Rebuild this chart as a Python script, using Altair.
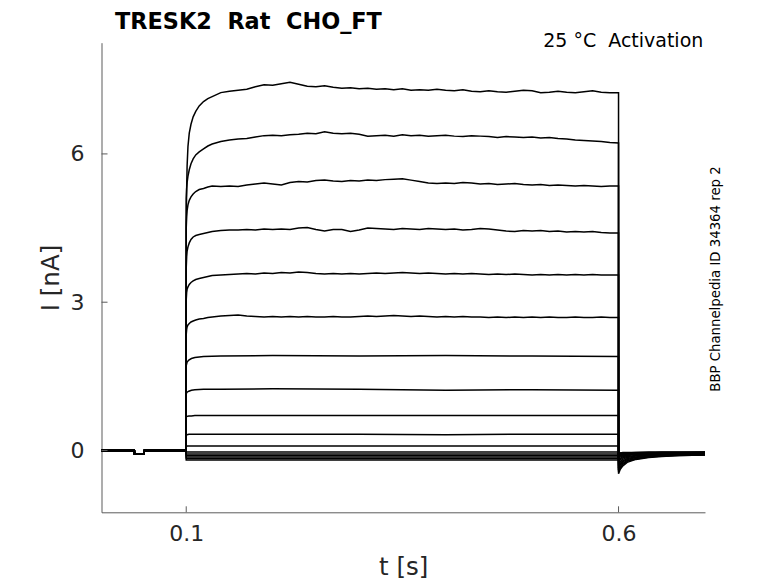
import altair as alt
import pandas as pd

# ---------------- data ----------------
# holding phase, shared by every sweep
T_PRE = [0.002, 0.040, 0.0402, 0.0513, 0.0515, 0.1]
I_PRE = [0.0, 0.0, -0.07, -0.07, 0.0, 0.0]

# step phase time grid
T_ONSET = [0.1, 0.1005, 0.101, 0.102, 0.1035, 0.1055, 0.108, 0.111, 0.115, 0.12, 0.125]
T_PLATEAU = [0.13, 0.14, 0.15, 0.16, 0.17, 0.18, 0.19, 0.20, 0.21, 0.22,
             0.23, 0.24, 0.25, 0.26, 0.27, 0.28, 0.29, 0.30, 0.31, 0.32,
             0.33, 0.34, 0.35, 0.36, 0.37, 0.38, 0.39, 0.40, 0.41, 0.42,
             0.43, 0.44, 0.45, 0.46, 0.47, 0.48, 0.49, 0.50, 0.51, 0.52,
             0.53, 0.54, 0.55, 0.56, 0.57, 0.58, 0.59, 0.60]

S1_ON = [4.6, 5.3, 5.75, 6.15, 6.42, 6.6, 6.75, 6.86, 6.97, 7.06, 7.12]
S1_PL = [7.16, 7.24, 7.27, 7.29, 7.31, 7.36, 7.40, 7.39, 7.42, 7.45,
         7.41, 7.37, 7.36, 7.38, 7.35, 7.33, 7.34, 7.32, 7.33, 7.31,
         7.32, 7.30, 7.32, 7.29, 7.30, 7.29, 7.31, 7.29, 7.28, 7.30,
         7.27, 7.26, 7.28, 7.26, 7.25, 7.27, 7.29, 7.28, 7.24, 7.25,
         7.27, 7.25, 7.24, 7.26, 7.28, 7.25, 7.24, 7.24]

S2_ON = [5.1, 5.3, 5.42, 5.55, 5.68, 5.8, 5.9, 5.98, 6.04, 6.1, 6.16]
S2_PL = [6.20, 6.25, 6.28, 6.30, 6.31, 6.34, 6.37, 6.38, 6.37, 6.39,
         6.40, 6.42, 6.41, 6.45, 6.42, 6.41, 6.42, 6.40, 6.36, 6.37,
         6.38, 6.36, 6.39, 6.37, 6.38, 6.36, 6.37, 6.38, 6.36, 6.35,
         6.37, 6.36, 6.35, 6.33, 6.35, 6.34, 6.33, 6.34, 6.32, 6.33,
         6.31, 6.30, 6.28, 6.27, 6.26, 6.25, 6.23, 6.22]

S3_ON = [4.5, 4.73, 4.85, 4.97, 5.06, 5.13, 5.19, 5.24, 5.28, 5.30, 5.33]
S3_PL = [5.35, 5.34, 5.35, 5.34, 5.37, 5.39, 5.41, 5.39, 5.37, 5.42,
         5.44, 5.43, 5.46, 5.47, 5.45, 5.44, 5.46, 5.45, 5.47, 5.46,
         5.48, 5.49, 5.50, 5.47, 5.44, 5.41, 5.40, 5.41, 5.40, 5.42,
         5.41, 5.39, 5.40, 5.38, 5.39, 5.40, 5.38, 5.37, 5.38, 5.36,
         5.37, 5.36, 5.35, 5.36, 5.35, 5.34, 5.35, 5.35]

S4_ON = [3.7, 3.92, 4.03, 4.12, 4.20, 4.27, 4.32, 4.35, 4.37, 4.39, 4.41]
S4_PL = [4.43, 4.45, 4.46, 4.46, 4.47, 4.46, 4.48, 4.47, 4.48, 4.47,
         4.50, 4.51, 4.47, 4.44, 4.47, 4.47, 4.43, 4.46, 4.50, 4.49,
         4.48, 4.47, 4.49, 4.48, 4.47, 4.49, 4.48, 4.47, 4.48, 4.46,
         4.47, 4.49, 4.48, 4.46, 4.44, 4.43, 4.45, 4.44, 4.45, 4.43,
         4.44, 4.42, 4.43, 4.42, 4.43, 4.41, 4.40, 4.40]

S5_ON = [3.05, 3.20, 3.26, 3.31, 3.36, 3.40, 3.43, 3.46, 3.48, 3.50, 3.52]
S5_PL = [3.54, 3.55, 3.56, 3.57, 3.58, 3.57, 3.59, 3.58, 3.60, 3.59,
         3.61, 3.60, 3.58, 3.57, 3.58, 3.57, 3.58, 3.57, 3.58, 3.59,
         3.58, 3.59, 3.60, 3.59, 3.58, 3.59, 3.58, 3.57, 3.58, 3.57,
         3.58, 3.57, 3.56, 3.57, 3.56, 3.57, 3.56, 3.55, 3.56, 3.55,
         3.56, 3.55, 3.56, 3.55, 3.56, 3.55, 3.55, 3.55]

S6_ON = [2.35, 2.45, 2.50, 2.54, 2.57, 2.60, 2.62, 2.64, 2.66, 2.67, 2.69]
S6_PL = [2.70, 2.72, 2.73, 2.74, 2.72, 2.71, 2.70, 2.71, 2.70, 2.71,
         2.70, 2.71, 2.70, 2.70, 2.71, 2.70, 2.70, 2.71, 2.72, 2.71,
         2.72, 2.73, 2.72, 2.71, 2.72, 2.71, 2.70, 2.71, 2.70, 2.71,
         2.70, 2.70, 2.69, 2.70, 2.69, 2.70, 2.69, 2.70, 2.69, 2.70,
         2.69, 2.69, 2.70, 2.69, 2.69, 2.70, 2.69, 2.69]

# smaller sweeps on a coarser grid
T_COARSE = [0.1, 0.101, 0.103, 0.106, 0.11, 0.12, 0.14, 0.2, 0.3, 0.4, 0.5, 0.6]
S7 = [1.72, 1.79, 1.83, 1.86, 1.88, 1.90, 1.91, 1.92, 1.91, 1.92, 1.91, 1.90]
S8 = [1.15, 1.18, 1.20, 1.22, 1.23, 1.24, 1.24, 1.25, 1.24, 1.22, 1.23, 1.22]
S9 = [0.68, 0.69, 0.70, 0.70, 0.71, 0.71, 0.71, 0.71, 0.71, 0.71, 0.71, 0.71]
S10 = [0.32, 0.32, 0.33, 0.33, 0.33, 0.33, 0.33, 0.33, 0.33, 0.32, 0.33, 0.33]
S11 = [0.08, 0.09, 0.09, 0.09, 0.09, 0.09, 0.09, 0.09, 0.09, 0.09, 0.09, 0.09]

# inward (negative) sweeps, flat during the step
T_FLAT = [0.1, 0.6]
N1 = [-0.03, -0.03]
N2 = [-0.07, -0.07]
N3 = [-0.10, -0.10]
N4 = [-0.13, -0.13]
N5 = [-0.16, -0.16]
N6 = [-0.19, -0.19]

# tail currents after the step
T_TAIL = [0.6, 0.602, 0.605, 0.61, 0.62, 0.635, 0.65, 0.67, 0.7]
TL1 = [-0.47, -0.38, -0.31, -0.24, -0.18, -0.14, -0.12, -0.10, -0.09]
TL2 = [-0.43, -0.35, -0.28, -0.22, -0.17, -0.13, -0.11, -0.10, -0.09]
TL3 = [-0.39, -0.32, -0.26, -0.20, -0.16, -0.12, -0.11, -0.09, -0.08]
TL4 = [-0.35, -0.29, -0.23, -0.18, -0.14, -0.11, -0.10, -0.09, -0.08]
TL5 = [-0.31, -0.26, -0.21, -0.16, -0.13, -0.10, -0.09, -0.08, -0.07]
TL6 = [-0.27, -0.23, -0.18, -0.14, -0.11, -0.09, -0.08, -0.07, -0.07]
TL7 = [-0.23, -0.19, -0.15, -0.12, -0.10, -0.08, -0.07, -0.07, -0.06]
TL8 = [-0.19, -0.16, -0.13, -0.10, -0.08, -0.07, -0.06, -0.06, -0.06]
TL9 = [-0.15, -0.13, -0.11, -0.09, -0.07, -0.06, -0.06, -0.05, -0.05]
TL10 = [-0.12, -0.10, -0.09, -0.07, -0.06, -0.05, -0.05, -0.05, -0.04]
TL11 = [-0.09, -0.08, -0.07, -0.06, -0.05, -0.05, -0.04, -0.04, -0.04]
TN1 = [-0.05, -0.05, -0.04, -0.04, -0.04, -0.03, -0.03, -0.03, -0.03]
TN2 = [-0.06, -0.05, -0.05, -0.05, -0.04, -0.04, -0.04, -0.04, -0.03]
TN3 = [-0.07, -0.06, -0.06, -0.05, -0.05, -0.05, -0.04, -0.04, -0.04]
TN4 = [-0.08, -0.07, -0.07, -0.06, -0.06, -0.05, -0.05, -0.05, -0.05]
TN5 = [-0.10, -0.09, -0.08, -0.07, -0.07, -0.06, -0.06, -0.06, -0.05]
TN6 = [-0.11, -0.10, -0.09, -0.08, -0.07, -0.07, -0.06, -0.06, -0.06]

X_TICKS = [0.1, 0.6]
Y_TICKS = [0, 3, 6]

TITLE = "TRESK2 \u00a0Rat \u00a0CHO_FT"
COND = "25 °C \u00a0Activation"
SIDE = "BBP Channelpedia ID 34364 rep 2"

# ---------------- assemble sweeps ----------------
T_STEP = T_ONSET + T_PLATEAU
sweeps = [
    ("s1", T_STEP, S1_ON + S1_PL, TL1),
    ("s2", T_STEP, S2_ON + S2_PL, TL2),
    ("s3", T_STEP, S3_ON + S3_PL, TL3),
    ("s4", T_STEP, S4_ON + S4_PL, TL4),
    ("s5", T_STEP, S5_ON + S5_PL, TL5),
    ("s6", T_STEP, S6_ON + S6_PL, TL6),
    ("s7", T_COARSE, S7, TL7),
    ("s8", T_COARSE, S8, TL8),
    ("s9", T_COARSE, S9, TL9),
    ("s10", T_COARSE, S10, TL10),
    ("s11", T_COARSE, S11, TL11),
    ("n1", T_FLAT, N1, TN1),
    ("n2", T_FLAT, N2, TN2),
    ("n3", T_FLAT, N3, TN3),
    ("n4", T_FLAT, N4, TN4),
    ("n5", T_FLAT, N5, TN5),
    ("n6", T_FLAT, N6, TN6),
]
rows = []
for name, ts, vs, tail in sweeps:
    assert len(ts) == len(vs), name
    assert len(tail) == len(T_TAIL), name
    seq = list(zip(T_PRE, I_PRE)) + list(zip(ts, vs)) + list(zip(T_TAIL, tail))
    for i, (t, v) in enumerate(seq):
        rows.append({"sweep": name, "t": t, "I": v, "i": i})
df = pd.DataFrame(rows)

# ---------------- chart ----------------
W, H = 603.5, 469.6
AX = "#5a5a5a"
TXT = "#262626"
FONT = "DejaVu Sans"

xs = alt.Scale(domain=[0.002, 0.7], nice=False, zero=False)
ys = alt.Scale(domain=[-1.25, 8.25], nice=False, zero=False)

x_axis = alt.Axis(
    values=X_TICKS, format=".1f", title="t [s]", grid=False,
    domainColor=AX, domainWidth=1, ticks=False, tickSize=0,
    labelFont=FONT, labelFontSize=22, labelColor=TXT, labelPadding=11,
    titleFont=FONT, titleFontSize=24.5, titleFontWeight="normal",
    titleColor=TXT, titleBaseline="alphabetic", titleY=62.7)
y_axis = alt.Axis(
    values=Y_TICKS, format="d", title="I [nA]", grid=False,
    domainColor=AX, domainWidth=1, ticks=False, tickSize=0,
    labelFont=FONT, labelFontSize=22, labelColor=TXT, labelPadding=17.5,
    titleFont=FONT, titleFontSize=24.5, titleFontWeight="normal",
    titleColor=TXT, titleBaseline="alphabetic", titleX=-42.9)

lines = alt.Chart(df).mark_line(color="black", strokeWidth=1.5).encode(
    x=alt.X("t:Q", scale=xs, axis=x_axis),
    y=alt.Y("I:Q", scale=ys, axis=y_axis),
    detail="sweep:N",
    order="i:Q",
)

xt = alt.Chart(pd.DataFrame({"t": X_TICKS})).mark_rule(color=AX, strokeWidth=1).encode(
    x=alt.X("t:Q", scale=xs, axis=x_axis), y=alt.value(H), y2=alt.value(H - 6))
yt = alt.Chart(pd.DataFrame({"I": Y_TICKS})).mark_rule(color=AX, strokeWidth=1).encode(
    y=alt.Y("I:Q", scale=ys, axis=y_axis), x=alt.value(0), x2=alt.value(6))

title_t = alt.Chart(pd.DataFrame({"s": [TITLE]})).mark_text(
    font=FONT, fontSize=22.4, fontWeight="bold", align="left",
    baseline="alphabetic", color="black").encode(
    text="s:N", x=alt.value(13.5), y=alt.value(-13.7))
cond_t = alt.Chart(pd.DataFrame({"s": [COND]})).mark_text(
    font=FONT, fontSize=19, align="right", baseline="alphabetic",
    color="black").encode(text="s:N", x=alt.value(601.8), y=alt.value(4.6))
side_t = alt.Chart(pd.DataFrame({"s": [SIDE]})).mark_text(
    font=FONT, fontSize=13.3, align="center", baseline="alphabetic",
    angle=270, color="black").encode(text="s:N", x=alt.value(618.5), y=alt.value(236.3))

chart = alt.layer(lines, xt, yt, title_t, cond_t, side_t).properties(
    width=W, height=H,
    autosize=alt.AutoSizeParams(type="none"),
    padding={"left": 93.5, "top": 34.7, "right": 30, "bottom": 72},
    background="white",
).configure_view(stroke=None)

chart.save("out.html", embed_options={"renderer": "svg", "actions": False})
